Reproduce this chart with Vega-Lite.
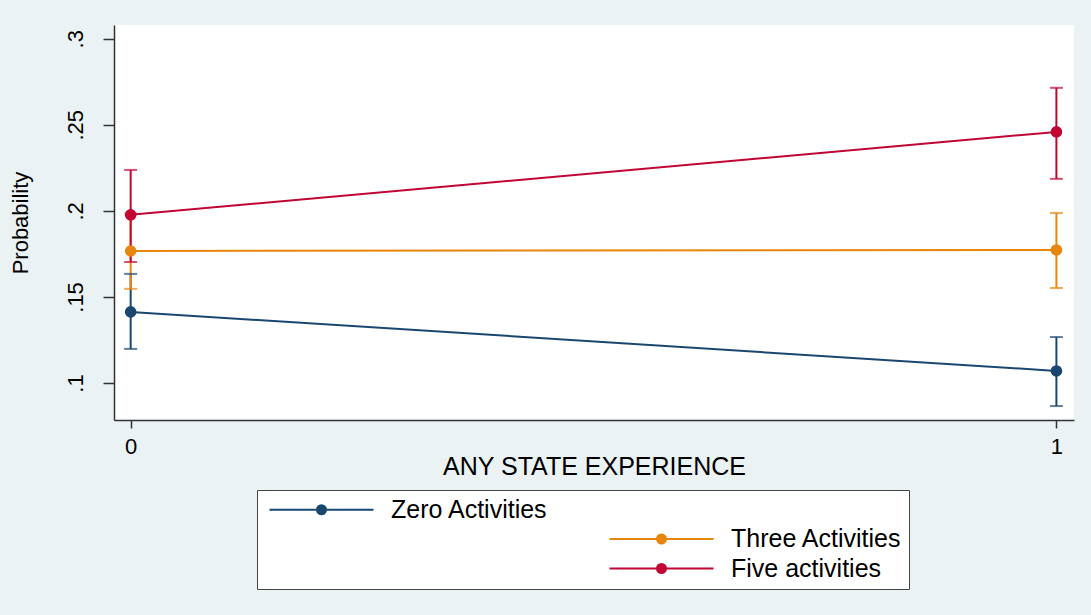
{
  "$schema": "https://vega.github.io/schema/vega-lite/v6.json",
  "width": 960,
  "height": 395,
  "autosize": {"type": "none"},
  "padding": {"left": 114, "top": 25, "right": 17, "bottom": 195},
  "background": "#EAF2F3",
  "config": {
    "view": {"fill": "white", "stroke": null},
    "font": "Liberation Sans",
    "axis": {"domainColor": "#333333", "tickColor": "#333333", "labelColor": "#000000", "titleColor": "#000000", "grid": false, "titleFontWeight": "normal", "domainWidth": 1.5, "tickWidth": 1.5}
  },
  "data": {"values": [
    {"group": "Zero Activities", "x": 0, "p": 0.1413, "lo": 0.1198, "hi": 0.1634},
    {"group": "Zero Activities", "x": 1, "p": 0.1070, "lo": 0.0866, "hi": 0.1267},
    {"group": "Three Activities", "x": 0, "p": 0.1767, "lo": 0.1547, "hi": 0.1985},
    {"group": "Three Activities", "x": 1, "p": 0.1773, "lo": 0.1552, "hi": 0.1988},
    {"group": "Five activities", "x": 0, "p": 0.1977, "lo": 0.1703, "hi": 0.2238},
    {"group": "Five activities", "x": 1, "p": 0.2459, "lo": 0.2186, "hi": 0.2715}
  ]},
  "encoding": {
    "x": {
      "field": "x", "type": "quantitative",
      "scale": {"domain": [-0.018, 1.019], "nice": false, "zero": false},
      "axis": {"values": [0, 1], "format": "d", "title": "ANY STATE EXPERIENCE", "tickSize": 8, "labelFontSize": 22, "titleFontSize": 25, "labelPadding": 8, "titlePadding": -3}
    },
    "color": {
      "field": "group", "type": "nominal",
      "scale": {
        "domain": ["Zero Activities", "b1", "b2", "b3", "Three Activities", "Five activities"],
        "range": ["#1A476F", "transparent", "transparent", "transparent", "#E8850C", "#C10534"]
      },
      "legend": {
        "orient": "none", "legendX": 143, "legendY": 465,
        "title": null, "columns": 2,
        "symbolType": "M-5.2,0L5.2,0M-0.45,0A0.45,0.45,0,1,1,0.45,0A0.45,0.45,0,1,1,-0.45,0Z",
        "symbolSize": 400, "symbolStrokeWidth": 2, "symbolOffset": 45,
        "labelOffset": 57, "labelFontSize": 25, "labelLimit": 600, "labelColor": "#000000",
        "columnPadding": 56, "rowPadding": 3.5, "padding": 7,
        "fillColor": "white", "strokeColor": "#444444",
        "labelExpr": "datum.label == 'b3' ? '                                 ' : (datum.label == 'b1' || datum.label == 'b2') ? '' : datum.label",
        "encode": {"symbols": {"update": {"fill": {"scale": "color", "field": "value"}, "stroke": {"scale": "color", "field": "value"}, "opacity": {"value": 1}}}}
      }
    }
  },
  "layer": [
    {
      "mark": {"type": "rule", "strokeWidth": 2},
      "encoding": {
        "y": {
          "field": "lo", "type": "quantitative", "title": "Probability",
          "scale": {"domain": [0.0785, 0.308], "nice": false, "zero": false},
          "axis": {"values": [0.1, 0.15, 0.2, 0.25, 0.3], "labelExpr": "replace(format(datum.value, '.2~f'), '0.', '.')", "labelAngle": -90, "labelFontSize": 22, "tickSize": 11, "labelPadding": 16, "titleFontSize": 22, "titlePadding": 32}
        },
        "y2": {"field": "hi"}
      }
    },
    {
      "mark": {"type": "tick", "orient": "horizontal", "size": 13, "thickness": 2},
      "encoding": {"y": {"field": "lo", "type": "quantitative", "title": "Probability", "scale": {"domain": [0.0785, 0.308], "nice": false, "zero": false}}}
    },
    {
      "mark": {"type": "tick", "orient": "horizontal", "size": 13, "thickness": 2},
      "encoding": {"y": {"field": "hi", "type": "quantitative", "title": "Probability", "scale": {"domain": [0.0785, 0.308], "nice": false, "zero": false}}}
    },
    {
      "mark": {"type": "line", "strokeWidth": 2},
      "encoding": {"y": {"field": "p", "type": "quantitative", "title": "Probability", "scale": {"domain": [0.0785, 0.308], "nice": false, "zero": false}}}
    },
    {
      "mark": {"type": "point", "filled": true, "size": 135, "opacity": 1},
      "encoding": {"y": {"field": "p", "type": "quantitative", "title": "Probability", "scale": {"domain": [0.0785, 0.308], "nice": false, "zero": false}}}
    }
  ]
}
